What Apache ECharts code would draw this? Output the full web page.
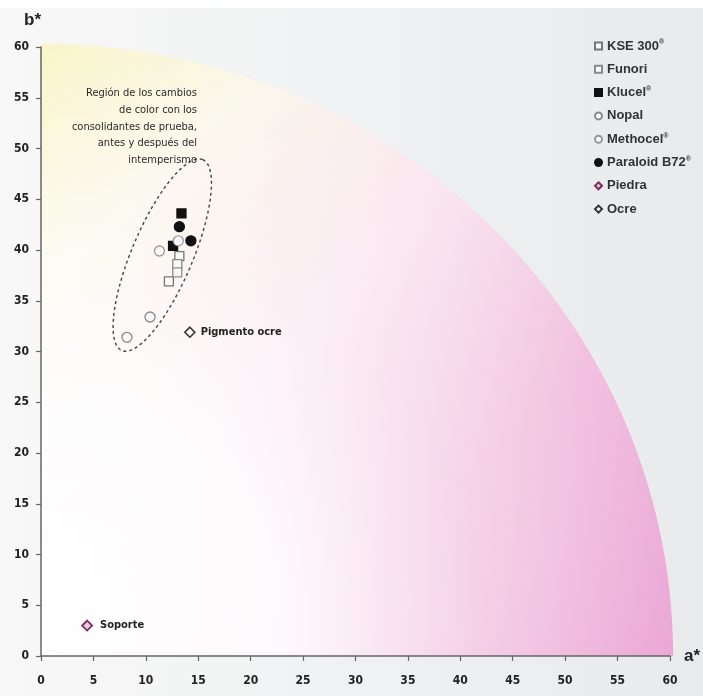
<!DOCTYPE html>
<html>
<head>
<meta charset="utf-8">
<script src="https://cdn.jsdelivr.net/npm/echarts@6/dist/echarts.min.js"></script>
<style>
html,body{margin:0;padding:0;}
#echarts{width:703px;height:696px;}
</style>
</head>
<body>
<div id="echarts"></div>
<script>
// ejes a* / b*
var axisMin=0;
var axisMax=60;
var tickStep=5;

// puntos (a*, b*)
var kse300=[[13.2,39.4],[12.2,36.9]];
var funori=[[13.0,38.6],[13.0,37.8]];
var klucel=[[13.4,43.6],[12.6,40.4]];
var nopal=[[10.4,33.4],[8.2,31.4]];
var methocel=[[13.1,40.9],[11.3,39.9]];
var paraloid=[[13.2,42.3],[14.3,40.9]];
var piedra=[[4.4,3.0]];
var ocre=[[14.2,31.9]];

// texto de la region
var regionLines=['Región de los cambios','de color con los','consolidantes de prueba,','antes y después del','intemperismo'];

// fondo (cuarto de circulo cromatico) y elipse de la region
var fanRadius=60.3;
var ellipseCenter=[11.57,39.5];
var ellipseTop=[15.43,48.9];
var ellipseHalfWidth=2.9;

var narrow="'Liberation Sans Narrow','DejaVu Sans Condensed',sans-serif";
var plain="'Liberation Sans',Arial,sans-serif";

function renderFan(params,api){
    var pts=[];
    for(var d=0;d<=90;d++){
        var t=d*Math.PI/180;
        pts.push(api.coord([fanRadius*Math.cos(t),fanRadius*Math.sin(t)]));
    }
    pts.push(api.coord([0,0]));
    var o=api.coord([0,0]);
    var pinkEnd=api.coord([fanRadius,0]);
    var yellowEnd=api.coord([0,fanRadius]);
    var rpx=api.size([fanRadius,0])[0];
    return {
        type:'group',
        children:[
            {
                type:'polygon',
                shape:{points:pts},
                style:{fill:new echarts.graphic.LinearGradient(pinkEnd[0],pinkEnd[1],yellowEnd[0],yellowEnd[1],[
                    {offset:0,color:'#eba6d5'},
                    {offset:0.3,color:'#f1bfdf'},
                    {offset:0.55,color:'#f9e4ef'},
                    {offset:0.8,color:'#fbf7ea'},
                    {offset:1,color:'#f9f5c6'}
                ],true)}
            },
            {
                type:'polygon',
                shape:{points:pts},
                style:{fill:new echarts.graphic.RadialGradient(o[0],o[1],rpx,[
                    {offset:0,color:'rgba(255,255,255,1)'},
                    {offset:0.4,color:'rgba(255,255,255,0.88)'},
                    {offset:0.7,color:'rgba(255,255,255,0.35)'},
                    {offset:1,color:'rgba(255,255,255,0)'}
                ],true)}
            }
        ]
    };
}

function renderEllipse(params,api){
    var c=api.coord(ellipseCenter);
    var e=api.coord(ellipseTop);
    var vx=e[0]-c[0], vy=e[1]-c[1];
    var len=Math.sqrt(vx*vx+vy*vy);
    var ux=-vy/len, uy=vx/len;
    var w=api.size([ellipseHalfWidth,0])[0];
    var pts=[];
    for(var d=0;d<=360;d+=3){
        var t=d*Math.PI/180;
        pts.push([c[0]+vx*Math.cos(t)+ux*w*Math.sin(t),c[1]+vy*Math.cos(t)+uy*w*Math.sin(t)]);
    }
    return {
        type:'polygon',
        shape:{points:pts},
        style:{fill:null,stroke:'#444',lineWidth:1.4,lineDash:[3,3]}
    };
}

function pointSeries(name,data,symbol,size,fill,border){
    return {
        name:name,
        type:'scatter',
        data:data,
        symbol:symbol,
        symbolSize:size,
        z:5,
        itemStyle:{color:fill,borderColor:border,borderWidth:1.3,opacity:1}
    };
}

var graphics=[
    {type:'rect',left:0,top:0,z:-1,shape:{width:703,height:8},style:{fill:'#ffffff'}}
];
regionLines.forEach(function(line,i){
    graphics.push({
        type:'text',
        right:506,
        top:88+i*16.6,
        z:20,
        style:{text:line,fontFamily:narrow,fontSize:11,fill:'#2a2a2a'}
    });
});

var myChart=echarts.init(document.getElementById('echarts'));
var option={
    backgroundColor:new echarts.graphic.LinearGradient(0,0,1,0,[
        {offset:0,color:'#f8f8f8'},
        {offset:1,color:'#e8eaec'}
    ]),
    animation:false,
    grid:{left:41,right:32,top:47,bottom:40},
    graphic:graphics,
    legend:{
        orient:'vertical',
        left:589,
        top:34,
        itemWidth:7,
        itemHeight:7,
        itemGap:9.3,
        textStyle:{
            fontFamily:plain,
            fontSize:13,
            fontWeight:'bold',
            color:'#333',
            lineHeight:14,
            rich:{s:{fontFamily:plain,fontSize:7,fontWeight:'bold',color:'#333',verticalAlign:'top',lineHeight:14}}
        },
        formatter:function(n){
            return n.replace('®','{s|®}');
        },
        data:['KSE 300®','Funori','Klucel®','Nopal','Methocel®','Paraloid B72®','Piedra','Ocre']
    },
    xAxis:{
        type:'value',
        min:axisMin,
        max:axisMax,
        interval:tickStep,
        name:'a*',
        nameLocation:'end',
        nameGap:14,
        nameTextStyle:{fontFamily:plain,fontSize:17,fontWeight:'bold',color:'#222'},
        axisLine:{lineStyle:{color:'#666',width:1.5}},
        axisTick:{inside:false,length:5,lineStyle:{color:'#666',width:1.2}},
        axisLabel:{margin:19,fontFamily:narrow,fontSize:12,fontWeight:'bold',color:'#222'},
        splitLine:{show:false}
    },
    yAxis:{
        type:'value',
        min:axisMin,
        max:axisMax,
        interval:tickStep,
        name:'b*',
        nameLocation:'end',
        nameGap:18,
        nameTextStyle:{fontFamily:plain,fontSize:17,fontWeight:'bold',color:'#222',align:'right'},
        axisLine:{lineStyle:{color:'#666',width:1.5}},
        axisTick:{inside:false,length:5,lineStyle:{color:'#666',width:1.2}},
        axisLabel:{margin:12,fontFamily:narrow,fontSize:12,fontWeight:'bold',color:'#222'},
        splitLine:{show:false}
    },
    series:[
        {
            type:'custom',
            name:'fondo',
            silent:true,
            z:0,
            clip:false,
            data:[[0,0]],
            renderItem:renderFan
        },
        {
            type:'custom',
            name:'region',
            silent:true,
            z:3,
            data:[ellipseCenter],
            renderItem:renderEllipse
        },
        pointSeries('KSE 300®',kse300,'rect',9,'#fafafa','#777'),
        pointSeries('Funori',funori,'rect',9,'#fafafa','#8a8a8a'),
        pointSeries('Klucel®',klucel,'rect',9,'#111','#111'),
        pointSeries('Nopal',nopal,'circle',10,'#fafafa','#888'),
        pointSeries('Methocel®',methocel,'circle',10,'#fafafa','#999'),
        pointSeries('Paraloid B72®',paraloid,'circle',10,'#111','#111'),
        {
            name:'Piedra',
            type:'scatter',
            data:piedra,
            symbol:'diamond',
            symbolSize:10,
            z:5,
            itemStyle:{color:'#e6ccd9',borderColor:'#7c2d60',borderWidth:1.8,opacity:1},
            label:{show:true,position:'right',distance:7,formatter:'Soporte',fontFamily:narrow,fontSize:11,fontWeight:'bold',color:'#222'}
        },
        {
            name:'Ocre',
            type:'scatter',
            data:ocre,
            symbol:'diamond',
            symbolSize:10,
            z:5,
            itemStyle:{color:'#fafafa',borderColor:'#333',borderWidth:1.6,opacity:1},
            label:{show:true,position:'right',distance:5,formatter:'Pigmento ocre',fontFamily:narrow,fontSize:11,fontWeight:'bold',color:'#222'}
        }
    ]
};
myChart.setOption(option);
</script>
</body>
</html>
